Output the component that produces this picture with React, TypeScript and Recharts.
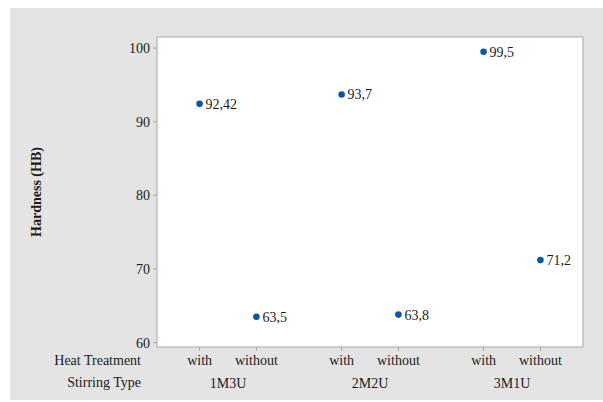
import React from "react";
import {
  ScatterChart, Scatter, XAxis, YAxis, ReferenceArea,
} from "recharts";

const STIRRING = ["1M3U", "2M2U", "3M1U"];
const HEAT = ["with", "without"];
const WITH_HEAT = [92.42, 93.7, 99.5];
const WITHOUT_HEAT = [63.5, 63.8, 71.2];
const Y_TICKS = [60, 70, 80, 90, 100];

const FONT = "'Times New Roman', 'Liberation Serif', serif";
const TEXT = "#1a1a1a";
const DOT = "#0b56a4";
const OFFSET = [-0.2, 0.2];

const points = STIRRING.flatMap((s, g) =>
  [WITH_HEAT[g], WITHOUT_HEAT[g]].map((v, h) => ({
    x: g + 1 + OFFSET[h],
    y: v,
    heat: HEAT[h],
    stirring: s,
  }))
);
const groups = STIRRING.map((s, g) => ({ x: g + 1, y: 80, stirring: s }));

const heatTicks = points.map((p) => p.x);
const heatLabel = (x: number) => {
  const p = points.find((q) => Math.abs(q.x - x) < 1e-6);
  return p ? p.heat : "";
};

// dot plus its value label, comma as decimal separator
const Dot = (props: any) => (
  <g>
    <circle cx={props.cx} cy={props.cy} r={3.3} fill={DOT} />
    <text x={props.cx + 6} y={props.cy} dy="0.35em" fill={TEXT} fontSize={14} fontFamily={FONT}>
      {String(props.payload.y).replace(".", ",")}
    </text>
  </g>
);
const Nothing = () => <g />;

const tick = { fill: TEXT, fontSize: 14, fontFamily: FONT };

export default function App() {
  return (
    <div style={{ position: "absolute", left: 0, top: 0, width: 603, height: 402, background: "#fff", fontFamily: FONT }}>
      <div style={{ position: "absolute", left: 10, top: 8, width: 593, height: 392, background: "#e4e4e4" }} />
      <div style={{ position: "absolute", left: 0, top: 0 }}>
        <ScatterChart width={603} height={402} margin={{ top: 37, right: 20, bottom: 11, left: 0 }} style={{ fontFamily: FONT }}>
          <XAxis
            xAxisId="a" type="number" dataKey="x" domain={[0.5, 3.5]} ticks={heatTicks}
            tickFormatter={heatLabel} axisLine={false} tickSize={4} tickMargin={4}
            tickLine={{ stroke: "#a6a6a6" }} tick={tick} height={22} interval={0}
            allowDataOverflow
          />
          <XAxis
            xAxisId="b" type="number" dataKey="x" domain={[0.5, 3.5]} ticks={[1, 2, 3]}
            tickFormatter={(v: number) => STIRRING[Math.round(v) - 1] ?? ""}
            axisLine={false} tickLine={false} tickSize={0} tickMargin={9} tick={tick} height={22} interval={0}
            allowDataOverflow
          />
          <YAxis
            type="number" dataKey="y" domain={[59.4, 101.5]} ticks={Y_TICKS} width={157}
            axisLine={false} tickSize={4} tickMargin={3} tickLine={{ stroke: "#a6a6a6" }} tick={tick}
            allowDataOverflow
            label={{ value: "Hardness (HB)", angle: -90, position: "insideLeft", dx: 31, style: { fill: TEXT, fontSize: 14, fontWeight: "bold", fontFamily: FONT, textAnchor: "middle" } }}
          />
          <ReferenceArea
            xAxisId="a" x1={0.5} x2={3.5} y1={59.4} y2={101.5}
            fill="#ffffff" fillOpacity={1} stroke="#a6a6a6" strokeWidth={1}
          />
          <Scatter xAxisId="b" data={groups} shape={Nothing} isAnimationActive={false} />
          <Scatter xAxisId="a" data={points} shape={Dot} isAnimationActive={false} />
        </ScatterChart>
      </div>
      <div style={{ position: "absolute", right: 462, top: 353, fontSize: 14, color: TEXT, whiteSpace: "nowrap", textAlign: "right" }}>Heat Treatment</div>
      <div style={{ position: "absolute", right: 462, top: 375, fontSize: 14, color: TEXT, whiteSpace: "nowrap", textAlign: "right" }}>Stirring Type</div>
    </div>
  );
}
